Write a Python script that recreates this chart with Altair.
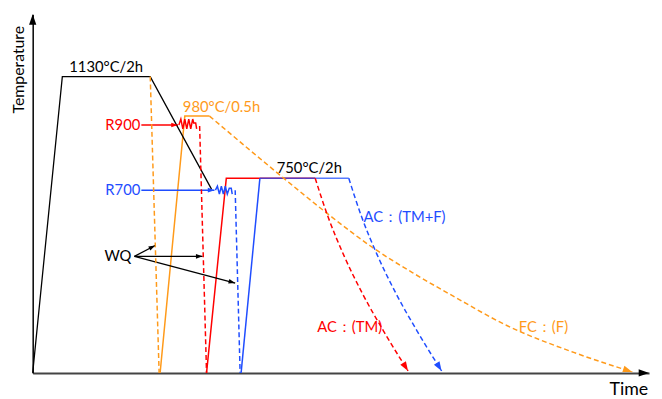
import math
import altair as alt
import pandas as pd

# ---- schematic values: t = time (arbitrary units), T = temperature (arbitrary units) ----
T_AXIS_END = 624
Y_AXIS_END = 363

black_t = [0, 30, 119, 181]
black_T = [0, 300, 300, 186]

orange_wq_t = [119, 128]
orange_wq_T = [300, 0]
orange_heat_t = [129, 154, 179]
orange_heat_T = [0, 260, 260]
orange_fc_t = [179, 247, 300, 344, 387, 427, 480, 547, 607]
orange_fc_T = [260, 203, 160, 127, 100, 77, 48, 21, 1]

red_in_t = [110, 147]
red_in_T = [251, 251]
red_zig_t = [148, 150, 152, 154, 156, 158, 160, 162, 163, 165, 166]
red_zig_T = [251, 257, 247, 257, 247, 257, 247, 257, 253, 253, 247]
red_wq_t = [169, 176]
red_wq_T = [250, 0]
red_heat_t = [176, 196, 286]
red_heat_T = [0, 197, 197]
red_ac_t = [286, 299, 315, 334, 356, 380]
red_ac_T = [197, 158, 119, 80, 41, 2]

blue_in_t = [110, 184]
blue_in_T = [185, 185]
blue_zig_t = [185, 187, 189, 191, 193, 195, 197, 199, 201, 202]
blue_zig_T = [185, 189, 181, 189, 181, 189, 181, 187, 187, 181]
blue_wq_t = [205, 210]
blue_wq_T = [185, 0]
blue_heat_t = [211, 230]
blue_heat_T = [0, 197]
blue_hold_t = [230, 320]
blue_hold_T = [197, 197]
blue_ac_t = [320, 333, 349, 368, 390, 414]
blue_ac_T = [197, 158, 119, 80, 41, 2]

wq_from_t, wq_from_T = 103, 118
wq_to_t = [124, 172, 205]
wq_to_T = [129, 118, 91]

label_text = ["1130°C/2h", "980°C/0.5h", "750°C/2h", "AC：(TM+F)", "AC：(TM)", "FC：(F)"]
label_t = [37, 152, 247, 335, 288, 492]
label_T = [310, 269, 207, 158, 46, 46]
label_col = ["black", "orange", "black", "blue", "red", "orange"]

rlabel_text = ["R900", "R700", "WQ"]
rlabel_t = [109, 109, 100]
rlabel_T = [251, 185, 118]
rlabel_col = ["red", "blue", "black"]

x_title = "Time"
x_title_t, x_title_T = 584, -22
y_title = "Temperature"
y_title_t, y_title_T = -9, 307

COLORS = {"black": "#000000", "red": "#ff0000", "blue": "#1f4dff", "orange": "#ff9a1a"}
FONT = "Lato"


def lines(specs):
    rows = []
    for sid, (ts, Ts, col) in enumerate(specs):
        for i, (a, b) in enumerate(zip(ts, Ts)):
            rows.append({"id": sid, "i": i, "t": a, "T": b, "c": COLORS[col]})
    return pd.DataFrame(rows)


def heading(ts, Ts):
    dx = ts[-1] - ts[-2]
    dy = Ts[-1] - Ts[-2]
    return math.degrees(math.atan2(dx, dy)) % 360


x_enc = alt.X("t:Q", scale=alt.Scale(domain=[0, T_AXIS_END], nice=False, zero=False),
              axis=alt.Axis(domain=True, domainColor="#444444", domainWidth=2, ticks=False,
                            labels=False, grid=False, title=None))
y_enc = alt.Y("T:Q", scale=alt.Scale(domain=[0, Y_AXIS_END], nice=False, zero=False),
              axis=alt.Axis(domain=True, domainColor="#000000", domainWidth=1.5, ticks=False,
                            labels=False, grid=False, title=None))


def line_layer(df, dash=None, interp="linear", width=1.5, opacity=1.0):
    kw = dict(interpolate=interp, strokeWidth=width, opacity=opacity)
    if dash:
        kw["strokeDash"] = dash
    return alt.Chart(df).mark_line(**kw).encode(
        x=x_enc, y=y_enc, detail="id:N", order="i:Q", color=alt.Color("c:N", scale=None))


wq_specs = [([wq_from_t, a], [wq_from_T, b], "black") for a, b in zip(wq_to_t, wq_to_T)]

solid_black = lines([(black_t, black_T, "black")] + wq_specs)
solid_col = lines([
    (orange_heat_t, orange_heat_T, "orange"),
    (red_in_t, red_in_T, "red"),
    (red_zig_t, red_zig_T, "red"),
    (red_heat_t, red_heat_T, "red"),
    (blue_in_t, blue_in_T, "blue"),
    (blue_zig_t, blue_zig_T, "blue"),
    (blue_heat_t, blue_heat_T, "blue"),
])
hold_df = lines([(blue_hold_t, blue_hold_T, "blue")])
dash_straight = lines([
    (orange_wq_t, orange_wq_T, "orange"),
    (red_wq_t, red_wq_T, "red"),
    (blue_wq_t, blue_wq_T, "blue"),
])
dash_curve = lines([
    (orange_fc_t, orange_fc_T, "orange"),
    (red_ac_t, red_ac_T, "red"),
    (blue_ac_t, blue_ac_T, "blue"),
])

ARROW = "M0,0L0.7,2L-0.7,2Z"


def arrow_layer(rows, size):
    df = pd.DataFrame(rows, columns=["t", "T", "a", "c"])
    return alt.Chart(df).mark_point(shape=ARROW, filled=True, size=size, opacity=1,
                                    strokeWidth=0).encode(
        x=x_enc, y=y_enc, angle=alt.Angle("a:Q", scale=None),
        color=alt.Color("c:N", scale=None))


axis_arrows = arrow_layer([
    [T_AXIS_END, 0, 90, "#000000"],
    [0, Y_AXIS_END, 0, "#000000"],
], 110)
small_arrows = arrow_layer(
    [[red_in_t[-1], red_in_T[-1], heading(red_in_t, red_in_T), COLORS["red"]],
     [blue_in_t[-1], blue_in_T[-1], heading(blue_in_t, blue_in_T), COLORS["blue"]]]
    + [[a, b, heading([wq_from_t, a], [wq_from_T, b]), "#000000"] for a, b in zip(wq_to_t, wq_to_T)],
    45)
end_arrows = arrow_layer([
    [orange_fc_t[-1], orange_fc_T[-1], heading(orange_fc_t, orange_fc_T), COLORS["orange"]],
    [red_ac_t[-1], red_ac_T[-1], heading(red_ac_t, red_ac_T), COLORS["red"]],
    [blue_ac_t[-1], blue_ac_T[-1], heading(blue_ac_t, blue_ac_T), COLORS["blue"]],
], 90)

lab_df = pd.DataFrame({"label": label_text, "t": label_t, "T": label_T,
                       "c": [COLORS[c] for c in label_col]})
rlab_df = pd.DataFrame({"label": rlabel_text, "t": rlabel_t, "T": rlabel_T,
                        "c": [COLORS[c] for c in rlabel_col]})

labels_left = alt.Chart(lab_df).mark_text(align="left", baseline="middle", font=FONT,
                                          fontSize=15).encode(
    x=x_enc, y=y_enc, text="label:N", color=alt.Color("c:N", scale=None))
labels_right = alt.Chart(rlab_df).mark_text(align="right", baseline="middle", font=FONT,
                                            fontSize=15).encode(
    x=x_enc, y=y_enc, text="label:N", color=alt.Color("c:N", scale=None))
xtitle = alt.Chart(pd.DataFrame({"label": [x_title], "t": [x_title_t], "T": [x_title_T]})).mark_text(
    align="left", baseline="alphabetic", font=FONT, fontSize=18, color="black").encode(
    x=x_enc, y=y_enc, text="label:N")
ytitle = alt.Chart(pd.DataFrame({"label": [y_title], "t": [y_title_t], "T": [y_title_T]})).mark_text(
    align="center", baseline="alphabetic", angle=270, font=FONT, fontSize=16, color="black").encode(
    x=x_enc, y=y_enc, text="label:N")

chart = alt.layer(
    line_layer(solid_col, width=1.5),
    line_layer(hold_df, width=1.5, opacity=0.75),
    line_layer(solid_black, width=1.3),
    line_layer(dash_straight, dash=[5, 3], width=1.5),
    line_layer(dash_curve, dash=[5, 3], interp="monotone", width=1.5),
    axis_arrows, small_arrows, end_arrows,
    labels_left, labels_right, xtitle, ytitle,
).properties(
    width=T_AXIS_END, height=Y_AXIS_END, autosize="none",
    padding={"left": 25, "top": 4, "right": 5, "bottom": 24},
).configure_view(stroke=None)

chart.save("out.html", embed_options={"renderer": "svg", "actions": False})
